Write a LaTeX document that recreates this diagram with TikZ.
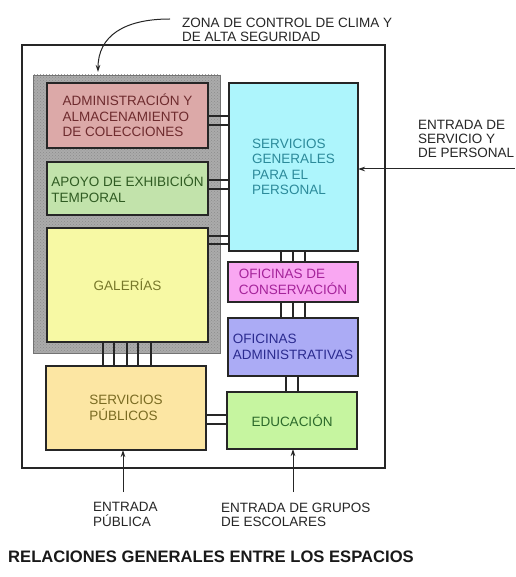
\documentclass[tikz,border=0pt]{standalone}
\usepackage{fontspec}
\setmainfont{Liberation Sans}
\usetikzlibrary{arrows.meta,patterns}
\definecolor{adminF}{HTML}{DCA9A8}\definecolor{adminT}{HTML}{6E2B2E}
\definecolor{apoyoF}{HTML}{C2E3AB}\definecolor{apoyoT}{HTML}{2F5B22}
\definecolor{galF}{HTML}{F7F9A4}\definecolor{galT}{HTML}{77782A}
\definecolor{sgenF}{HTML}{ADF5FC}\definecolor{sgenT}{HTML}{2C8A9A}
\definecolor{oconsF}{HTML}{F9A7F2}\definecolor{oconsT}{HTML}{A5239A}
\definecolor{oadmF}{HTML}{ABABF5}\definecolor{oadmT}{HTML}{2B2B8F}
\definecolor{spubF}{HTML}{FCE6A3}\definecolor{spubT}{HTML}{7A6B22}
\definecolor{eduF}{HTML}{C6F5A0}\definecolor{eduT}{HTML}{2C6A2B}
\definecolor{zoneF}{HTML}{ABABAB}
\begin{document}
\begin{tikzpicture}[x=1pt,y=-1pt,
  room/.style={draw=black!85,line width=1.3pt,inner sep=0pt,outer sep=0pt,align=left,
    font=\fontsize{13.5}{15.5}\selectfont},
  link/.style={draw=black!85,line width=1.1pt},
  label/.style={anchor=west,align=left,inner sep=0pt,font=\fontsize{13.5}{14.2}\selectfont,text=black!85},
  arr/.style={draw=black!85,line width=1pt,-{Stealth[length=7pt,width=4.5pt]}}]
\useasboundingbox[fill=white] (0,0) rectangle (515,577);
% outer frame
\draw[line width=1.5pt,black!85] (22,45) rectangle (385,468);
% climate zone
\fill[zoneF] (33,75) rectangle (220,353);
\fill[pattern=crosshatch dots,pattern color=black!45] (33,75) rectangle (220,353);
\draw[black!55,line width=0.6pt] (33,75) rectangle (220,353);
% rooms
\node[room,fill=adminF,text=adminT,minimum width=161pt,minimum height=65pt] (admin) at (127.5,115.5)
  {ADMINISTRACIÓN Y\\ALMACENAMIENTO\\DE COLECCIONES};
\node[room,fill=apoyoF,text=apoyoT,minimum width=161pt,minimum height=53pt] (apoyo) at (127.5,188.5)
  {APOYO DE EXHIBICIÓN\\TEMPORAL};
\node[room,fill=galF,text=galT,minimum width=161pt,minimum height=114pt] (gal) at (127.5,285)
  {GALERÍAS};
\node[room,fill=sgenF,text=sgenT,minimum width=129pt,minimum height=168pt] (sgen) at (293.5,167)
  {SERVICIOS\\GENERALES\\PARA EL\\PERSONAL};
\node[room,fill=oconsF,text=oconsT,minimum width=130pt,minimum height=40pt] (ocons) at (293,282)
  {OFICINAS DE\\CONSERVACIÓN};
\node[room,fill=oadmF,text=oadmT,minimum width=130pt,minimum height=58pt] (oadm) at (293,347)
  {OFICINAS\\ADMINISTRATIVAS};
\node[room,fill=spubF,text=spubT,minimum width=160pt,minimum height=84pt] (spub) at (126,408)
  {SERVICIOS\\PÚBLICOS};
\node[room,fill=eduF,text=eduT,minimum width=130pt,minimum height=57pt] (edu) at (292,420.5)
  {EDUCACIÓN};
% links
\foreach \yy in {116,125} \draw[link] (admin.east |- 0,\yy) -- (sgen.west |- 0,\yy);
\foreach \yy in {180,189} \draw[link] (apoyo.east |- 0,\yy) -- (sgen.west |- 0,\yy);
\foreach \yy in {236,244} \draw[link] (gal.east |- 0,\yy) -- (sgen.west |- 0,\yy);
\foreach \xx in {281,293,305} \draw[link] (sgen.south -| \xx,0) -- (ocons.north -| \xx,0);
\foreach \xx in {281,293,305} \draw[link] (ocons.south -| \xx,0) -- (oadm.north -| \xx,0);
\foreach \xx in {286,298} \draw[link] (oadm.south -| \xx,0) -- (edu.north -| \xx,0);
\foreach \xx in {103,114,127,138,151} \draw[link] (gal.south -| \xx,0) -- (spub.north -| \xx,0);
\foreach \yy in {415,424} \draw[link] (spub.east |- 0,\yy) -- (edu.west |- 0,\yy);
% arrows
\coordinate (zs) at (170,19);
\coordinate (ze) at (98,72);
\draw[arr] (zs) .. controls (124,19) and (98,36) .. (ze);
\coordinate (servin) at (515,169);
\draw[arr] (servin) -- (servin -| sgen.east);
\coordinate (pubin) at (123,492);
\draw[arr] (pubin) -- (pubin |- spub.south);
\coordinate (schin) at (293,492);
\draw[arr] (schin) -- (schin |- edu.south);
% labels
\node[label] (zl) at (182,30) {ZONA DE CONTROL DE CLIMA Y\\DE ALTA SEGURIDAD};
\node[label] (sl) at (418,139) {ENTRADA DE\\SERVICIO Y\\DE PERSONAL};
\node[label] (pl) at (93,514.5) {ENTRADA\\PÚBLICA};
\node[label] (el) at (221,514.5) {ENTRADA DE GRUPOS\\DE ESCOLARES};
\node[anchor=west,inner sep=0pt,font=\bfseries\fontsize{16.6}{18}\selectfont,text=black!90] (title) at (8,557)
  {RELACIONES GENERALES ENTRE LOS ESPACIOS};
\end{tikzpicture}
\end{document}
